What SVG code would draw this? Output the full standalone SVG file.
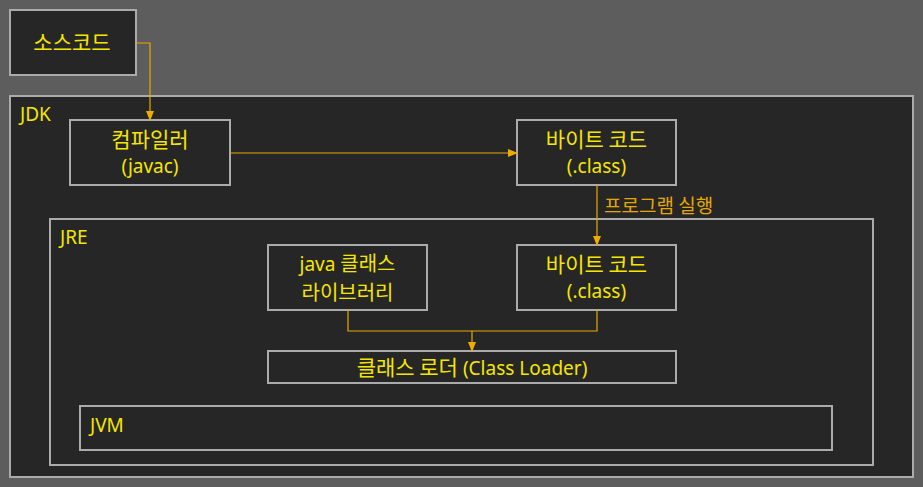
<svg xmlns="http://www.w3.org/2000/svg" width="923" height="487" viewBox="0 0 923 487">
<defs>
<style>
.box{fill:#262626;stroke:#ababab;stroke-width:2}
.t{font-family:"Noto Sans","Noto Sans CJK KR",sans-serif;font-size:19px;fill:#f5e600}
.k{font-family:"Noto Sans CJK KR","Noto Sans",sans-serif;font-size:21px}
.k2{font-family:"Noto Sans CJK KR","Noto Sans",sans-serif;font-size:20px}
.c{text-anchor:middle}
.lbl{font-family:"Noto Sans CJK KR","Noto Sans",sans-serif;font-size:19px;fill:#e6a800}
.ln{fill:none;stroke:#e6a800;stroke-width:1.2}
</style>
<marker id="ah" markerWidth="10" markerHeight="8" refX="9" refY="4" orient="auto" markerUnits="userSpaceOnUse">
<path d="M0,0 L10,4 L0,8 Z" fill="#f0ad00"/>
</marker>
</defs>
<rect x="0" y="0" width="923" height="487" fill="#5d5d5d"/>
<g id="source"><rect class="box" x="10" y="10" width="126" height="65"/><text class="t k c" x="72" y="50">소스코드</text></g>
<g id="jdk"><rect class="box" x="10" y="96" width="903" height="381"/><text class="t" x="20" y="121">JDK</text></g>
<g id="compiler"><rect class="box" x="70" y="120" width="160" height="65"/><text class="t k c" x="150" y="147">컴파일러</text><text class="t c" x="150" y="173">(javac)</text></g>
<g id="bytecode1"><rect class="box" x="517" y="120" width="159" height="65"/><text class="t k c" x="596.5" y="147">바이트 코드</text><text class="t c" x="596.5" y="173">(.class)</text></g>
<g id="jre"><rect class="box" x="50" y="219" width="823" height="246"/><text class="t" x="60" y="244">JRE</text></g>
<g id="javalib"><rect class="box" x="268" y="245" width="159" height="65"/><text class="t c" x="347.5" y="271">java <tspan class="k2">클래스</tspan></text><text class="t k2 c" x="347.5" y="300">라이브러리</text></g>
<g id="bytecode2"><rect class="box" x="517" y="245" width="159" height="65"/><text class="t k c" x="596.5" y="272">바이트 코드</text><text class="t c" x="596.5" y="298">(.class)</text></g>
<g id="classloader"><rect class="box" x="268" y="351" width="408" height="32"/><text class="t c" x="472" y="375"><tspan class="k">클래스 로더</tspan> (Class Loader)</text></g>
<g id="jvm"><rect class="box" x="80" y="406" width="752" height="44"/><text class="t" x="90" y="432">JVM</text></g>
<g id="connectors">
<path class="ln" d="M136,43 H150 V120" marker-end="url(#ah)"/>
<path class="ln" d="M230,153 H517" marker-end="url(#ah)"/>
<path class="ln" d="M597,185 V245" marker-end="url(#ah)"/>
<path class="ln" d="M348,310 V331 H597 V310"/>
<path class="ln" d="M472,331 V351" marker-end="url(#ah)"/>
<text class="lbl" x="604" y="213">프로그램 실행</text>
</g>
</svg>
